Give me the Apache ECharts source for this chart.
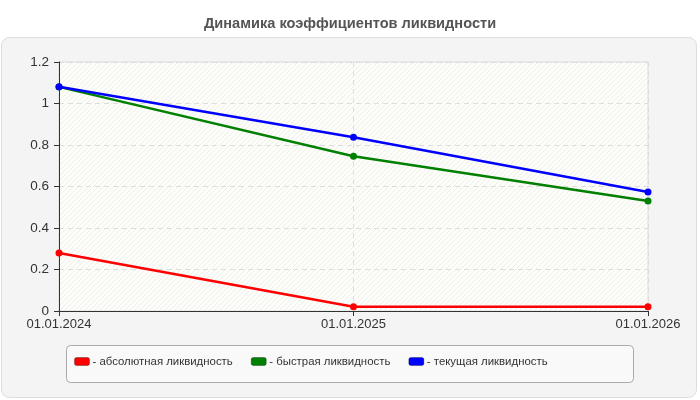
<!DOCTYPE html>
<html><head><meta charset="utf-8">
<script src="https://cdn.jsdelivr.net/npm/echarts@6/dist/echarts.min.js"></script>
<style>html,body{margin:0;padding:0;background:#fff}#c{width:700px;height:400px}</style>
</head><body><div id="c"></div>
<script>
const categories = ['01.01.2024', '01.01.2025', '01.01.2026'];
const absoluteLiquidity = [0.28, 0.02, 0.02];
const quickLiquidity = [1.08, 0.746, 0.53];
const currentLiquidity = [1.081, 0.837, 0.573];
const seriesNames = ['- абсолютная ликвидность', '- быстрая ликвидность', '- текущая ликвидность'];
const seriesColors = ['#ff0000', '#008000', '#0000ff'];

const pc = document.createElement('canvas');
pc.width = 5; pc.height = 5;
const ctx = pc.getContext('2d');
ctx.fillStyle = '#fdfdf9';
ctx.fillRect(0, 0, 5, 5);
ctx.strokeStyle = '#ededea';
ctx.lineWidth = 1;
ctx.beginPath();
ctx.moveTo(-1, 6); ctx.lineTo(6, -1);
ctx.moveTo(-1, 1); ctx.lineTo(1, -1);
ctx.moveTo(4, 6); ctx.lineTo(6, 4);
ctx.stroke();

const chart = echarts.init(document.getElementById('c'), null, {renderer: 'canvas'});
const data = [absoluteLiquidity, quickLiquidity, currentLiquidity];
chart.setOption({
  animation: false,
  backgroundColor: '#ffffff',
  title: {
    text: 'Динамика коэффициентов ликвидности',
    left: 'center', top: 11,
    textStyle: {fontFamily: 'Liberation Sans', fontSize: 14.6, fontWeight: 'bold', color: '#555555'}
  },
  graphic: [
    {type: 'rect', z: -10, shape: {x: 1.5, y: 37.5, width: 695, height: 360, r: 8},
     style: {fill: '#f4f4f4', stroke: '#dddddd', lineWidth: 1}},
    {type: 'rect', z: -5, shape: {x: 66.5, y: 345.5, width: 567, height: 37, r: 4},
     style: {fill: '#f9f9f9', stroke: '#aaaaaa', lineWidth: 1}}
  ],
  grid: {
    left: 59, right: 52, top: 62, bottom: 89,
    show: true, backgroundColor: {image: pc, repeat: 'repeat'},
    borderColor: '#dddddd', borderWidth: 1
  },
  legend: {
    bottom: 28, left: 69,
    itemWidth: 15, itemHeight: 8, itemGap: 18,
    icon: 'roundRect',
    textStyle: {fontFamily: 'Liberation Sans', fontSize: 11.4, color: '#333333', padding: [0, 0, 0, -2]},
    data: seriesNames.map(n => ({name: n, itemStyle: {borderColor: 'rgba(0,0,0,0.3)', borderWidth: 1}}))
  },
  xAxis: {
    type: 'category', data: categories, boundaryGap: false,
    axisLine: {lineStyle: {color: '#333333', width: 1}},
    axisTick: {show: true, length: 5, lineStyle: {color: '#333333'}},
    axisLabel: {fontFamily: 'Liberation Sans', fontSize: 13, color: '#333333', margin: 7},
    splitLine: {show: true, lineStyle: {color: '#dddddd', type: [5, 4]}}
  },
  yAxis: {
    type: 'value', min: 0, max: 1.2, interval: 0.2,
    axisLine: {show: true, lineStyle: {color: '#333333', width: 1}},
    axisTick: {show: true, length: 5, lineStyle: {color: '#333333'}},
    axisLabel: {fontFamily: 'Liberation Sans', fontSize: 13.5, color: '#333333', margin: 10,
      formatter: v => String(Math.round(v * 10) / 10)},
    splitLine: {show: true, lineStyle: {color: '#dddddd', type: [5, 4]}}
  },
  series: seriesNames.map((n, i) => ({
    name: n, type: 'line', data: data[i],
    symbol: 'circle', symbolSize: 7, showSymbol: true,
    lineStyle: {color: seriesColors[i], width: 2.5},
    itemStyle: {color: seriesColors[i]},
    z: 3 + i
  }))
});
</script></body></html>
